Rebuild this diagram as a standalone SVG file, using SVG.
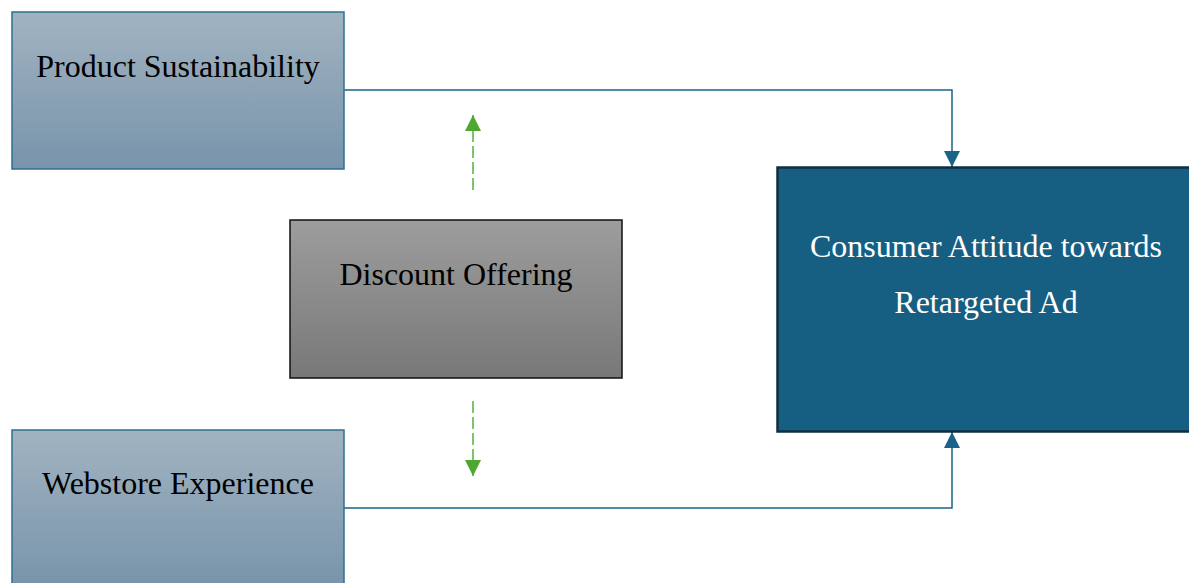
<svg xmlns="http://www.w3.org/2000/svg" width="1189" height="583" viewBox="0 0 1189 583">
  <defs>
    <linearGradient id="gBlue" x1="0" y1="0" x2="0" y2="1">
      <stop offset="0" stop-color="#A1B3C1"/>
      <stop offset="1" stop-color="#7894AB"/>
    </linearGradient>
    <linearGradient id="gGrey" x1="0" y1="0" x2="0" y2="1">
      <stop offset="0" stop-color="#9D9D9D"/>
      <stop offset="1" stop-color="#787878"/>
    </linearGradient>
    <marker id="arrBlue" viewBox="0 0 10 10" refX="10" refY="5" markerWidth="16" markerHeight="16" markerUnits="userSpaceOnUse" orient="auto">
      <path d="M0,0 L10,5 L0,10 Z" fill="#1A6388"/>
    </marker>
    <marker id="arrGreen" viewBox="0 0 10 10" refX="10" refY="5" markerWidth="16" markerHeight="16" markerUnits="userSpaceOnUse" orient="auto">
      <path d="M0,0 L10,5 L0,10 Z" fill="#4EA72E"/>
    </marker>
  </defs>
  <style>
    .lbl { font-family: "Liberation Serif", "Times New Roman", serif; font-size: 32px; text-anchor: middle; }
    .dark { fill: #000000; }
    .light { fill: #FFFFFF; }
    .link { fill: none; stroke: #1A6388; stroke-width: 1.5; }
    .dash { fill: none; stroke: #5AAE3C; stroke-width: 1.5; stroke-dasharray: 12 4; }
  </style>

  <g id="connectors">
    <path class="link" d="M344,90 H952 V167" marker-end="url(#arrBlue)"/>
    <path class="link" d="M344,508 H952 V432" marker-end="url(#arrBlue)"/>
    <path class="dash" d="M473,190 V115" marker-end="url(#arrGreen)"/>
    <path class="dash" d="M473,401 V476" marker-end="url(#arrGreen)"/>
  </g>

  <g id="product-sustainability">
    <rect x="12" y="12" width="332" height="157" fill="url(#gBlue)" stroke="#2F6F93" stroke-width="1.5"/>
    <text class="lbl dark" x="178" y="77">Product Sustainability</text>
  </g>

  <g id="webstore-experience">
    <rect x="12" y="430" width="332" height="157" fill="url(#gBlue)" stroke="#2F6F93" stroke-width="1.5"/>
    <text class="lbl dark" x="178" y="494">Webstore Experience</text>
  </g>

  <g id="discount-offering">
    <rect x="290" y="220" width="332" height="158" fill="url(#gGrey)" stroke="#111111" stroke-width="1.5"/>
    <text class="lbl dark" x="456" y="285">Discount Offering</text>
  </g>

  <g id="consumer-attitude">
    <rect x="777.5" y="167.5" width="420" height="264" fill="#175F82" stroke="#0E2F42" stroke-width="2.5"/>
    <text class="lbl light" x="986" y="257">Consumer Attitude towards</text>
    <text class="lbl light" x="986" y="313">Retargeted Ad</text>
  </g>
</svg>
